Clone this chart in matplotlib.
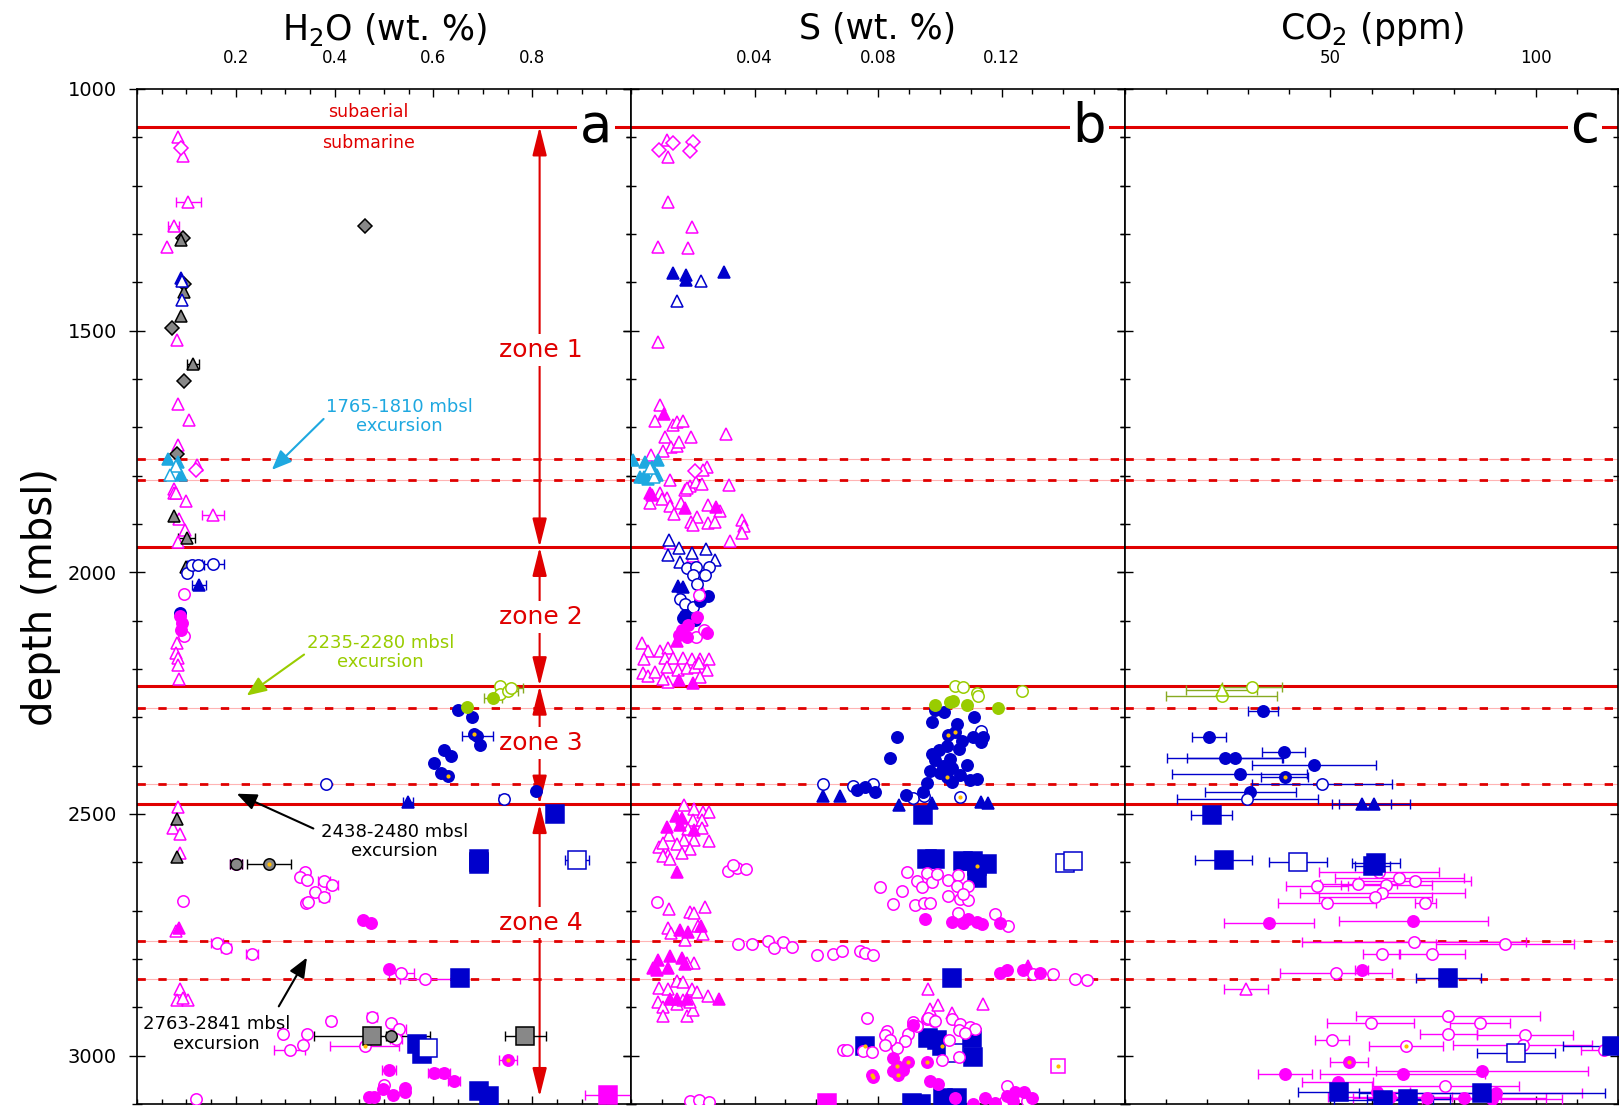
import matplotlib
matplotlib.use("Agg")
import matplotlib.pyplot as plt
from matplotlib.ticker import MultipleLocator

# ---------------- data: (value, depth mbsl) or (value, depth, x-error) ----------------
# panel a : H2O (wt. %)
a_mag_tri_o = [(0.082, 1099), (0.094, 1139), (0.061, 1327), (0.080, 1520), (0.082, 1651), (0.106, 1684),
               (0.084, 1736), (0.121, 1778), (0.075, 1828), (0.075, 1836), (0.079, 1836), (0.100, 1853),
               (0.086, 1890), (0.097, 1912), (0.082, 1938), (0.081, 2146), (0.079, 2167), (0.082, 2177),
               (0.082, 2191), (0.085, 2221), (0.082, 2486), (0.072, 2529), (0.087, 2541), (0.087, 2581),
               (0.078, 2742), (0.087, 2863), (0.080, 2885), (0.103, 2885), (0.093, 2880)]
a_mag_tri_o_err = [(0.104, 1233, 0.026), (0.074, 1283, 0.012), (0.154, 1881, 0.022)]
a_mag_tri_f = [(0.085, 2736)]
a_mag_dia_o = [(0.090, 1123), (0.119, 1788)]
a_mag_circ_o = [(0.096, 2044), (0.096, 2131), (0.093, 2681), (0.340, 2619), (0.330, 2630), (0.344, 2636),
                (0.361, 2662), (0.343, 2685), (0.347, 2682), (0.295, 2956), (0.344, 2956), (0.337, 2977),
                (0.500, 3060), (0.119, 3089), (0.514, 2932)]
a_mag_circ_o_err = [(0.200, 2604, 0.012), (0.378, 2639, 0.012), (0.394, 2646, 0.012), (0.378, 2672, 0.010),
                    (0.162, 2767, 0.012), (0.180, 2777, 0.010), (0.233, 2789, 0.012), (0.535, 2829, 0.025),
                    (0.584, 2841, 0.052), (0.392, 2929, 0.008), (0.530, 2944, 0.015), (0.309, 2988, 0.031),
                    (0.525, 2966, 0.012), (0.476, 2920, 0.010)]
a_mag_circ_oy_err = [(0.461, 2979, 0.070)]
a_mag_circ_f = [(0.088, 2091), (0.091, 2105), (0.090, 2119), (0.457, 2720), (0.473, 2725), (0.498, 3070),
                (0.518, 3082), (0.542, 3066), (0.542, 3075), (0.480, 3086), (0.470, 3086), (0.510, 2820)]
a_mag_circ_f_err = [(0.510, 3030, 0.015), (0.602, 3035, 0.012), (0.621, 3035, 0.012), (0.642, 3053, 0.012)]
a_mag_circ_fy_err = [(0.751, 3010, 0.018)]
a_mag_sq_f_err = [(0.954, 3082, 0.047)]

a_blue_tri_f = [(0.089, 1391)]
a_blue_tri_f_err = [(0.125, 2026, 0.014), (0.549, 2476, 0.010)]
a_blue_tri_o = [(0.091, 1398), (0.091, 1436)]
a_blue_circ_o = [(0.101, 2002), (0.382, 2438)]
a_blue_circ_o_err = [(0.111, 1984, 0.010), (0.123, 1984, 0.012), (0.154, 1983, 0.022), (0.742, 2470, 0.010)]
a_blue_circ_f = [(0.088, 2084), (0.650, 2284), (0.678, 2299), (0.694, 2357), (0.622, 2367), (0.636, 2381),
                 (0.602, 2394), (0.616, 2415), (0.807, 2453)]
a_blue_circ_f_err = [(0.689, 2339, 0.031)]
a_blue_circ_fy = [(0.683, 2334), (0.630, 2422)]
a_blue_sq_f = [(0.847, 2501), (0.692, 2594), (0.692, 2604), (0.654, 2839), (0.567, 2975), (0.577, 2996),
               (0.692, 3074), (0.712, 3084)]
a_blue_sq_o = [(0.590, 2985)]
a_blue_sq_o_err = [(0.891, 2596, 0.024)]

a_gray_dia = [(0.462, 1283), (0.093, 1309), (0.096, 1403), (0.070, 1494), (0.096, 1605), (0.080, 1755)]
a_gray_tri = [(0.089, 1312), (0.095, 1421), (0.090, 1469), (0.074, 1883), (0.100, 1988), (0.080, 2510),
              (0.080, 2588)]
a_gray_tri_err = [(0.113, 1569, 0.012), (0.101, 1929, 0.017)]
a_gray_circ_err = [(0.201, 2603, 0.012), (0.514, 2960, 0.010)]
a_gray_circ_y_err = [(0.267, 2603, 0.045)]
a_gray_sq = [(0.692, 2600)]
a_gray_sq_err = [(0.476, 2960, 0.117), (0.786, 2960, 0.042)]

a_cyan_tri_f = [(0.062, 1766), (0.082, 1771), (0.090, 1798)]
a_cyan_tri_o = [(0.079, 1781), (0.066, 1798)]

a_green_circ_o = [(0.734, 2235), (0.734, 2251)]
a_green_circ_o_err = [(0.751, 2246, 0.020), (0.758, 2240, 0.024)]
a_green_circ_f = [(0.668, 2279)]
a_green_circ_f_err = [(0.720, 2260, 0.018)]

# panel b : S (wt. %)
b_mag_dia_o = [(0.0092, 1126), (0.0137, 1112), (0.0200, 1109), (0.0191, 1128), (0.0207, 1791)]
b_mag_tri_o = [(0.0118, 1105), (0.0119, 1140), (0.0119, 1234), (0.0197, 1285), (0.0089, 1327), (0.0186, 1329),
               (0.0089, 1524), (0.0094, 1653), (0.0078, 1686), (0.0135, 1695), (0.0150, 1690), (0.0167, 1686),
               (0.0194, 1719), (0.0308, 1714), (0.0110, 1719), (0.0129, 1740), (0.0150, 1739), (0.0154, 1731),
               (0.0105, 1748), (0.0064, 1757), (0.0247, 1782), (0.0232, 1789), (0.0126, 1810), (0.0191, 1821),
               (0.0211, 1814), (0.0229, 1817), (0.0318, 1819), (0.0175, 1829), (0.0180, 1826), (0.0094, 1836),
               (0.0116, 1846), (0.0062, 1857), (0.0100, 1848), (0.0126, 1862), (0.0161, 1856), (0.0139, 1879),
               (0.0250, 1860), (0.0288, 1874), (0.0193, 1895), (0.0213, 1885), (0.0200, 1903), (0.0250, 1897),
               (0.0272, 1895), (0.0358, 1891), (0.0366, 1904), (0.0358, 1918), (0.0321, 1936), (0.0127, 1939),
               (0.0200, 1967), (0.0035, 2146), (0.0056, 2162), (0.0094, 2162), (0.0121, 2157), (0.0042, 2179),
               (0.0110, 2177), (0.0137, 2177), (0.0167, 2177), (0.0197, 2179), (0.0223, 2179), (0.0254, 2179),
               (0.0038, 2208), (0.0056, 2214), (0.0078, 2206), (0.0116, 2195), (0.0153, 2202), (0.0180, 2197),
               (0.0207, 2195), (0.0247, 2203), (0.0221, 2188), (0.0121, 2226), (0.0103, 2221), (0.0223, 2217),
               (0.0172, 2481), (0.0204, 2490), (0.0232, 2495), (0.0254, 2495), (0.0200, 2512), (0.0229, 2512),
               (0.0124, 2543), (0.0186, 2532), (0.0229, 2529), (0.0172, 2553), (0.0092, 2568), (0.0105, 2559),
               (0.0148, 2563), (0.0204, 2553), (0.0254, 2556), (0.0191, 2573), (0.0164, 2580), (0.0121, 2584),
               (0.0105, 2587), (0.0126, 2594), (0.0124, 2697), (0.0191, 2702), (0.0204, 2705), (0.0240, 2692),
               (0.0121, 2736), (0.0128, 2746), (0.0175, 2760), (0.0218, 2732), (0.0232, 2749), (0.0204, 2809),
               (0.0180, 2809), (0.0092, 2860), (0.0121, 2862), (0.0148, 2846), (0.0169, 2848), (0.0197, 2863),
               (0.0213, 2869), (0.0250, 2876), (0.0089, 2889), (0.0105, 2899), (0.0103, 2918), (0.0148, 2894),
               (0.0169, 2884), (0.0180, 2917), (0.0202, 2905), (0.0191, 2888), (0.0963, 2862), (0.0968, 2903),
               (0.0995, 2896), (0.1039, 2912), (0.1139, 2894)]
b_mag_tri_f = [(0.0108, 1673), (0.0062, 1836), (0.0067, 1840), (0.0175, 1866), (0.0275, 1864), (0.0227, 2036),
               (0.0148, 2143), (0.0157, 2222), (0.0200, 2228), (0.0146, 2505), (0.0164, 2509), (0.0118, 2526),
               (0.0159, 2522), (0.0204, 2534), (0.0148, 2619), (0.0159, 2740), (0.0186, 2744), (0.0226, 2732),
               (0.0072, 2818), (0.0088, 2802), (0.0126, 2793), (0.0164, 2798), (0.0121, 2818), (0.0175, 2811),
               (0.0083, 2823), (0.0126, 2883), (0.0148, 2883), (0.0180, 2883), (0.0286, 2883), (0.1287, 2815)]
b_mag_circ_o = [(0.0220, 2047), (0.0210, 2133), (0.0236, 2119), (0.0315, 2617), (0.0342, 2611), (0.0372, 2614),
                (0.0331, 2606), (0.0083, 2683), (0.0893, 2620), (0.0925, 2639), (0.0941, 2651), (0.0958, 2622),
                (0.0974, 2641), (0.0990, 2625), (0.1028, 2637), (0.1060, 2627), (0.1055, 2648), (0.1093, 2648),
                (0.0806, 2651), (0.0877, 2660), (0.0850, 2686), (0.0920, 2689), (0.0949, 2685), (0.0968, 2685),
                (0.1028, 2670), (0.1066, 2676), (0.1093, 2677), (0.1076, 2665), (0.1060, 2705), (0.1179, 2706),
                (0.1222, 2731), (0.0348, 2770), (0.0391, 2770), (0.0445, 2763), (0.0463, 2777), (0.0493, 2765),
                (0.0520, 2775), (0.0601, 2791), (0.0655, 2789), (0.0682, 2783), (0.0742, 2784), (0.0758, 2788),
                (0.0783, 2791), (0.1303, 2832), (0.1368, 2832), (0.1438, 2841), (0.1476, 2843), (0.0763, 2922),
                (0.0914, 2931), (0.0925, 2939), (0.0958, 2924), (0.0981, 2929), (0.1039, 2925), (0.1066, 2934),
                (0.1098, 2940), (0.1114, 2945), (0.1063, 2946), (0.1082, 2953), (0.0830, 2949), (0.0823, 2958),
                (0.0898, 2956), (0.0887, 2970), (0.0861, 2984), (0.0839, 2968), (0.0823, 2977), (0.0688, 2989),
                (0.0701, 2989), (0.0752, 2991), (0.0780, 2993), (0.1031, 2967), (0.1006, 3008), (0.1063, 3003),
                (0.0963, 2922), (0.0985, 2929), (0.1217, 3062), (0.1211, 3094), (0.1282, 3093), (0.0191, 3094),
                (0.0221, 3092), (0.0254, 3096)]
b_mag_circ_f = [(0.0215, 2093), (0.0186, 2108), (0.0164, 2119), (0.0157, 2129), (0.0180, 2133), (0.0247, 2126),
                (0.0952, 2717), (0.1039, 2724), (0.1076, 2725), (0.1093, 2717), (0.1120, 2724), (0.1136, 2727),
                (0.1195, 2725), (0.1195, 2828), (0.1217, 2823), (0.1271, 2822), (0.1325, 2829), (0.0912, 2936),
                (0.0850, 3005), (0.0850, 3032), (0.0882, 3030), (0.0968, 3053), (0.0995, 3058), (0.1049, 3088),
                (0.1107, 3099), (0.1147, 3088), (0.1179, 3097), (0.1217, 3083), (0.1244, 3076), (0.1273, 3076),
                (0.1298, 3088), (0.1238, 3093)]
b_mag_circ_fy = [(0.0780, 3039), (0.0785, 3044), (0.0863, 3022), (0.0864, 3041), (0.0898, 3013), (0.0958, 3013)]
b_mag_sq_f = [(0.0634, 3097)]
b_mag_sq_oy = [(0.1384, 3022)]

b_blue_tri_f = [(0.0137, 1381), (0.0178, 1385), (0.0178, 1395), (0.0302, 1378), (0.0153, 2029), (0.0167, 2031),
                (0.0623, 2463), (0.0677, 2463), (0.0869, 2481), (0.0974, 2478), (0.1133, 2476), (0.1157, 2477)]
b_blue_tri_o = [(0.0226, 1398), (0.0148, 1438), (0.0124, 1933), (0.0154, 1950), (0.0243, 1952), (0.0121, 1964),
                (0.0197, 1959), (0.0159, 1978), (0.0272, 1974)]
b_blue_circ_o = [(0.0180, 1991), (0.0210, 1989), (0.0254, 1989), (0.0200, 2005), (0.0240, 2005), (0.0213, 2024),
                 (0.0159, 2055), (0.0175, 2065), (0.0200, 2071), (0.1134, 2329), (0.0623, 2438), (0.0718, 2443),
                 (0.0785, 2438), (0.0914, 2466), (0.0949, 2462)]
b_blue_circ_f = [(0.0250, 2050), (0.0223, 2060), (0.0175, 2088), (0.0169, 2095), (0.0207, 2098), (0.0985, 2284),
                 (0.1014, 2288), (0.0974, 2310), (0.1055, 2313), (0.1111, 2299), (0.0861, 2341), (0.0839, 2384),
                 (0.1109, 2340), (0.1141, 2340), (0.1133, 2352), (0.1071, 2348), (0.1063, 2366), (0.1022, 2360),
                 (0.0999, 2367), (0.0974, 2375), (0.0985, 2388), (0.1033, 2386), (0.1012, 2400), (0.0968, 2412),
                 (0.1039, 2405), (0.1087, 2398), (0.1001, 2415), (0.1066, 2419), (0.1098, 2429), (0.1120, 2428),
                 (0.1039, 2433), (0.0960, 2435), (0.0947, 2455), (0.0731, 2450), (0.0758, 2445), (0.0790, 2454),
                 (0.0891, 2460)]
b_blue_circ_fy = [(0.1026, 2336), (0.1049, 2331), (0.1022, 2423)]
b_blue_circ_oy = [(0.1066, 2464)]
b_blue_sq_f = [(0.0945, 2502), (0.0958, 2594), (0.0985, 2593), (0.1076, 2597), (0.1109, 2597), (0.1152, 2603),
               (0.1120, 2633), (0.1041, 2839), (0.0963, 2963), (0.0990, 2967), (0.1103, 2963), (0.1107, 3002),
               (0.0909, 3097), (0.0938, 3101), (0.1012, 3087), (0.1055, 3087)]
b_blue_sq_fy = [(0.1122, 2607), (0.0758, 2981), (0.1006, 2981)]
b_blue_sq_o = [(0.1406, 2601), (0.1433, 2597), (0.1046, 2994)]

b_cyan_tri_f = [(0.0008, 1767), (0.0045, 1771), (0.0088, 1767), (0.0067, 1782), (0.0029, 1803), (0.0056, 1807),
                (0.0085, 1798), (0.0042, 1802)]
b_cyan_tri_o = [(0.0074, 1803), (0.0060, 1785)]

b_green_circ_o = [(0.1049, 2235), (0.1076, 2237), (0.1120, 2250), (0.1125, 2255), (0.1265, 2246)]
b_green_circ_f = [(0.0985, 2274), (0.1033, 2269), (0.1044, 2267), (0.1087, 2274), (0.1190, 2281)]

# panel c : CO2 (ppm), all with x-errors
c_green_circ_o = [(30.9, 2237, 7.3), (23.5, 2255, 13.4)]
c_green_tri_o = [(23.5, 2244, 8.6)]
c_blue_circ_f = [(33.6, 2286, 3.6), (20.5, 2341, 4.2), (38.6, 2371, 5.3), (24.3, 2384, 14.0), (26.7, 2384, 11.7),
                 (45.9, 2398, 15.1), (27.9, 2417, 16.4), (30.5, 2454, 11.1)]
c_blue_circ_fy = [(38.9, 2424, 5.7)]
c_blue_circ_o = [(47.9, 2438, 17.1), (29.8, 2470, 17.2)]
c_blue_tri_f = [(57.6, 2479, 7.2), (60.7, 2479, 8.7)]
c_blue_sq_f = [(21.1, 2503, 5.0), (24.0, 2596, 7.0), (61.1, 2601, 5.8), (60.3, 2608, 4.3), (78.7, 2839, 7.9),
               (118.6, 2981, 12.0), (52.1, 3076, 10.0), (62.9, 3091, 12.0), (69.0, 3090, 10.0), (86.9, 3078, 29.9)]
c_blue_sq_o = [(42.1, 2599, 7.0), (95.1, 2994, 9.5)]
c_mag_circ_o = [(61.8, 2620, 14.7), (66.8, 2633, 15.6), (70.6, 2639, 13.6), (56.8, 2645, 9.4), (46.8, 2648, 7.5),
                (63.6, 2647, 11.1), (62.6, 2663, 20.1), (60.9, 2672, 13.8), (49.2, 2684, 11.9), (73.1, 2685, 2.6),
                (70.3, 2765, 27.3), (92.5, 2770, 16.8), (62.5, 2789, 4.5), (74.7, 2789, 8.0), (51.4, 2830, 13.6),
                (78.6, 2918, 22.3), (59.8, 2933, 10.6), (86.4, 2932, 7.2), (78.7, 2956, 7.0), (97.4, 2958, 11.7),
                (50.4, 2967, 4.2), (96.8, 2977, 16.9), (116.6, 2989, 5.7), (78.0, 3063, 18.0)]
c_mag_circ_oy = [(68.4, 2981, 9.0)]
c_mag_circ_f = [(35.0, 2725, 10.9), (70.2, 2721, 18.1), (57.6, 2822, 1.6), (39.0, 3038, 6.6), (67.6, 3038, 20.1),
                (86.9, 3032, 25.7), (51.8, 3054, 8.6), (90.3, 3077, 21.0), (61.4, 3076, 8.0), (64.5, 3086, 15.0),
                (73.6, 3087, 18.0), (82.5, 3088, 20.0), (89.4, 3089, 17.0)]
c_mag_circ_fy = [(54.5, 3013, 4.7)]
c_mag_tri_o = [(29.4, 2862, 5.4)]

# boundaries (mbsl)
solid_depths = [1078, 1948, 2235, 2480]
dashed_depths = [1765, 1810, 2280, 2438, 2763, 2841]
zones = [("zone 1", 1078, 1948, 1540), ("zone 2", 1948, 2235, 2092),
         ("zone 3", 2235, 2480, 2353), ("zone 4", 2480, 3085, 2725)]

# ---------------- styles ----------------
MAG = '#ff00ff'
BLUE = '#0000cc'
CYAN = '#1ea8e0'
GREEN = '#99cc00'
GRAY = '#888888'
YEL = '#ffbb00'
RED = '#e00000'


def sty(marker, color, filled, ms, edge=None):
    return dict(marker=marker, ms=ms, mfc=color if filled else 'white',
                mec=edge or color, mew=1.1, linestyle='none')


TRI, CIRC, DIA, SQ = 9.2, 8.2, 7.4, 12.5


def draw(ax, pts, st, ecolor=None, dot=False):
    x = [p[0] for p in pts]
    y = [p[1] for p in pts]
    if len(pts[0]) == 3:
        ax.errorbar(x, y, xerr=[p[2] for p in pts], fmt='none', ecolor=ecolor,
                    elinewidth=1, capsize=3.5, capthick=1, zorder=3)
    ax.plot(x, y, zorder=4, **st)
    if dot:
        ax.plot(x, y, 'o', ms=3, color=YEL, mec='none', zorder=5)


# ---------------- figure ----------------
fig = plt.figure(figsize=(16.19, 11.07), dpi=100)
W, H = 1619.0, 1107.0
bot, hgt = 3 / H, 1015 / H
ax_a = fig.add_axes([137 / W, bot, 494 / W, hgt])
ax_b = fig.add_axes([631 / W, bot, 494 / W, hgt])
ax_c = fig.add_axes([1125 / W, bot, 493 / W, hgt])
axes = [ax_a, ax_b, ax_c]

for ax in axes:
    ax.set_ylim(3100, 1000)
    ax.yaxis.set_major_locator(MultipleLocator(500))
    ax.yaxis.set_minor_locator(MultipleLocator(100))
    ax.tick_params(axis='y', which='major', direction='inout', length=11, width=1,
                   left=True, right=True, labelsize=14, pad=9)
    ax.tick_params(axis='y', which='minor', direction='inout', length=6.5, width=1,
                   left=True, right=True)
    ax.tick_params(axis='x', which='both', direction='in', top=True, bottom=True,
                   labeltop=True, labelbottom=False, width=1)
    ax.tick_params(axis='x', which='major', length=6, pad=16, labelsize=12)
    ax.tick_params(axis='x', which='minor', length=3.5)
    for sp in ax.spines.values():
        sp.set_linewidth(1.2)
    for d in solid_depths:
        ax.axhline(d, color=RED, lw=2.2, zorder=1)
    for d in dashed_depths:
        ax.axhline(d, color='#ffb4b4', lw=0.8, zorder=1)
        ax.axhline(d, color=RED, lw=2, linestyle=(0, (3, 4.5)), zorder=1)

ax_b.tick_params(axis='y', labelleft=False)
ax_c.tick_params(axis='y', labelleft=False)

ax_a.set_xlim(0, 1.0)
ax_a.set_xticks([0.2, 0.4, 0.6, 0.8])
ax_a.xaxis.set_minor_locator(MultipleLocator(0.05))
ax_b.set_xlim(0, 0.16)
ax_b.set_xticks([0.04, 0.08, 0.12])
ax_b.set_xticklabels(['0.04', '0.08', '0.12'])
ax_b.xaxis.set_minor_locator(MultipleLocator(0.01))
ax_c.set_xlim(0, 120)
ax_c.set_xticks([50, 100])
ax_c.xaxis.set_minor_locator(MultipleLocator(10))

# ---- panel a ----
ax = ax_a
draw(ax, a_mag_tri_o, sty('^', MAG, False, TRI))
draw(ax, a_mag_tri_o_err, sty('^', MAG, False, TRI), MAG)
draw(ax, a_mag_tri_f, sty('^', MAG, True, TRI))
draw(ax, a_mag_dia_o, sty('D', MAG, False, DIA))
draw(ax, a_gray_dia, sty('D', GRAY, True, DIA, 'black'))
draw(ax, a_gray_tri, sty('^', GRAY, True, TRI, 'black'))
draw(ax, a_gray_tri_err, sty('^', GRAY, True, TRI, 'black'), 'black')
draw(ax, a_cyan_tri_f, sty('^', CYAN, True, TRI))
draw(ax, a_cyan_tri_o, sty('^', CYAN, False, TRI))
draw(ax, a_blue_tri_f, sty('^', BLUE, True, TRI))
draw(ax, a_blue_tri_f_err, sty('^', BLUE, True, TRI), BLUE)
draw(ax, a_blue_tri_o, sty('^', BLUE, False, TRI))
draw(ax, a_blue_circ_o, sty('o', BLUE, False, CIRC))
draw(ax, a_blue_circ_o_err, sty('o', BLUE, False, CIRC), BLUE)
draw(ax, a_blue_circ_f, sty('o', BLUE, True, CIRC))
draw(ax, a_blue_circ_f_err, sty('o', BLUE, True, CIRC), BLUE)
draw(ax, a_blue_circ_fy, sty('o', BLUE, True, CIRC), dot=True)
draw(ax, a_mag_circ_o, sty('o', MAG, False, CIRC))
draw(ax, a_mag_circ_o_err, sty('o', MAG, False, CIRC), MAG)
draw(ax, a_mag_circ_oy_err, sty('o', MAG, False, CIRC), MAG, dot=True)
draw(ax, a_mag_circ_f, sty('o', MAG, True, CIRC))
draw(ax, a_mag_circ_f_err, sty('o', MAG, True, CIRC), MAG)
draw(ax, a_mag_circ_fy_err, sty('o', MAG, True, CIRC), MAG, dot=True)
draw(ax, a_gray_sq, sty('s', GRAY, True, SQ, 'black'))
draw(ax, a_gray_sq_err, sty('s', GRAY, True, SQ, 'black'), 'black')
draw(ax, a_gray_circ_err, sty('o', GRAY, True, CIRC, 'black'), 'black')
draw(ax, a_gray_circ_y_err, sty('o', GRAY, True, CIRC, 'black'), 'black', dot=True)
draw(ax, a_blue_sq_f, sty('s', BLUE, True, SQ))
draw(ax, a_blue_sq_o, sty('s', BLUE, False, SQ))
draw(ax, a_blue_sq_o_err, sty('s', BLUE, False, SQ), BLUE)
draw(ax, a_mag_sq_f_err, sty('s', MAG, True, SQ), MAG)
draw(ax, a_green_circ_o, sty('o', GREEN, False, CIRC))
draw(ax, a_green_circ_o_err, sty('o', GREEN, False, CIRC), '#88aa22')
draw(ax, a_green_circ_f, sty('o', GREEN, True, CIRC))
draw(ax, a_green_circ_f_err, sty('o', GREEN, True, CIRC), '#88aa22')

# zone arrows and labels
for name, top, bottom, ylab in zones:
    ax.annotate('', xy=(0.815, top), xytext=(0.815, bottom),
                arrowprops=dict(arrowstyle='<|-|>,head_length=0.8,head_width=0.2',
                                mutation_scale=22, color=RED, lw=1.5,
                                shrinkA=0, shrinkB=0), zorder=2)
    ax.text(0.818, ylab, name, color=RED, fontsize=18, ha='center', va='center', zorder=6,
            bbox=dict(boxstyle='square,pad=0.15', fc='white', ec='none'))

ax.text(0.469, 1048, 'subaerial', color=RED, fontsize=12.5, ha='center', va='center')
ax.text(0.469, 1112, 'submarine', color=RED, fontsize=12.5, ha='center', va='center')

ax.annotate('1765-1810 mbsl\nexcursion', xy=(0.273, 1788), xytext=(0.532, 1677),
            color=CYAN, fontsize=13, ha='center', va='center', linespacing=1.1,
            arrowprops=dict(arrowstyle='-|>,head_length=0.6,head_width=0.25', mutation_scale=20,
                            color=CYAN, lw=1.5, shrinkA=0, shrinkB=0, relpos=(0.0, 0.5)))
ax.annotate('2235-2280 mbsl\nexcursion', xy=(0.222, 2255), xytext=(0.493, 2166),
            color=GREEN, fontsize=13, ha='center', va='center', linespacing=1.1,
            arrowprops=dict(arrowstyle='-|>,head_length=0.6,head_width=0.25', mutation_scale=20,
                            color=GREEN, lw=1.5, shrinkA=0, shrinkB=0, relpos=(0.0, 0.5)))
ax.annotate('', xy=(0.202, 2458), xytext=(0.357, 2530),
            arrowprops=dict(arrowstyle='-|>,head_length=0.6,head_width=0.25', mutation_scale=20,
                            color='black', lw=1.5, shrinkA=0, shrinkB=0))
ax.text(0.521, 2557, '2438-2480 mbsl\nexcursion', fontsize=13, ha='center', va='center', linespacing=1.1)
ax.annotate('', xy=(0.344, 2797), xytext=(0.287, 2898),
            arrowprops=dict(arrowstyle='-|>,head_length=0.6,head_width=0.25', mutation_scale=20,
                            color='black', lw=1.5, shrinkA=0, shrinkB=0))
ax.text(0.161, 2955, '2763-2841 mbsl\nexcursion', fontsize=13, ha='center', va='center', linespacing=1.1)

# ---- panel b ----
ax = ax_b
draw(ax, b_mag_tri_o, sty('^', MAG, False, TRI))
draw(ax, b_mag_tri_f, sty('^', MAG, True, TRI))
draw(ax, b_mag_dia_o, sty('D', MAG, False, DIA))
draw(ax, b_cyan_tri_f, sty('^', CYAN, True, TRI))
draw(ax, b_cyan_tri_o, sty('^', CYAN, False, TRI))
draw(ax, b_blue_tri_o, sty('^', BLUE, False, TRI))
draw(ax, b_blue_tri_f, sty('^', BLUE, True, TRI))
draw(ax, b_blue_circ_o, sty('o', BLUE, False, CIRC))
draw(ax, b_blue_circ_f, sty('o', BLUE, True, CIRC))
draw(ax, b_blue_circ_fy, sty('o', BLUE, True, CIRC), dot=True)
draw(ax, b_blue_circ_oy, sty('o', BLUE, False, CIRC), dot=True)
draw(ax, b_green_circ_o, sty('o', GREEN, False, CIRC))
draw(ax, b_green_circ_f, sty('o', GREEN, True, CIRC))
draw(ax, b_blue_sq_f, sty('s', BLUE, True, SQ))
draw(ax, b_blue_sq_fy, sty('s', BLUE, True, SQ), dot=True)
draw(ax, b_blue_sq_o, sty('s', BLUE, False, SQ))
draw(ax, b_mag_circ_o, sty('o', MAG, False, CIRC))
draw(ax, b_mag_circ_f, sty('o', MAG, True, CIRC))
draw(ax, b_mag_circ_fy, sty('o', MAG, True, CIRC), dot=True)
draw(ax, b_mag_sq_f, sty('s', MAG, True, SQ))
draw(ax, b_mag_sq_oy, sty('s', MAG, False, 10), dot=True)

# ---- panel c ----
ax = ax_c
draw(ax, c_green_circ_o, sty('o', GREEN, False, CIRC), '#88aa22')
draw(ax, c_green_tri_o, sty('^', GREEN, False, TRI), '#88aa22')
draw(ax, c_blue_circ_f, sty('o', BLUE, True, CIRC), BLUE)
draw(ax, c_blue_circ_fy, sty('o', BLUE, True, CIRC), BLUE, dot=True)
draw(ax, c_blue_circ_o, sty('o', BLUE, False, CIRC), BLUE)
draw(ax, c_blue_tri_f, sty('^', BLUE, True, TRI), BLUE)
draw(ax, c_mag_circ_o, sty('o', MAG, False, CIRC), MAG)
draw(ax, c_mag_circ_oy, sty('o', MAG, False, CIRC), MAG, dot=True)
draw(ax, c_mag_circ_f, sty('o', MAG, True, CIRC), MAG)
draw(ax, c_mag_circ_fy, sty('o', MAG, True, CIRC), MAG, dot=True)
draw(ax, c_mag_tri_o, sty('^', MAG, False, TRI), MAG)
draw(ax, c_blue_sq_f, sty('s', BLUE, True, SQ), BLUE)
draw(ax, c_blue_sq_o, sty('s', BLUE, False, SQ), BLUE)

# panel letters sitting on the subaerial/submarine line
for ax, letter in zip(axes, 'abc'):
    ax.text(0.962, 1078, letter, transform=ax.get_yaxis_transform(), fontsize=38,
            ha='right', va='center', zorder=6,
            bbox=dict(boxstyle='square,pad=0.05', fc='white', ec='none'))

# axis titles
fig.text(384 / W, 1 - 29 / H, 'H$_2$O (wt. %)', fontsize=25, ha='center', va='center')
fig.text(878 / W, 1 - 29 / H, 'S (wt. %)', fontsize=25, ha='center', va='center')
fig.text(1372 / W, 1 - 29 / H, 'CO$_2$ (ppm)', fontsize=25, ha='center', va='center')
fig.text(41 / W, 1 - 597 / H, 'depth (mbsl)', fontsize=29, rotation=90, ha='center', va='center')

fig.savefig('out.png', dpi=100)
